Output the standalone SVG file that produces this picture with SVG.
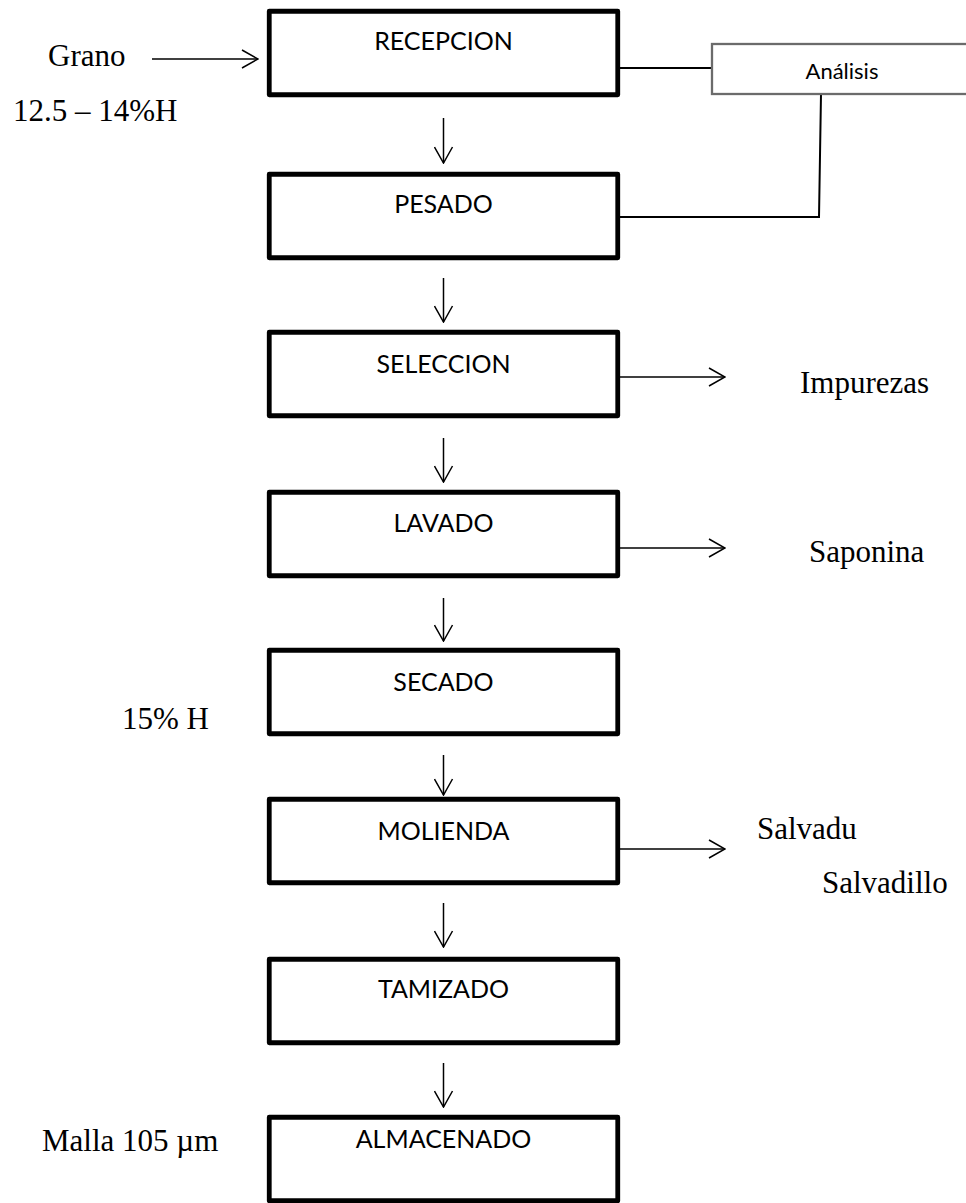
<svg xmlns="http://www.w3.org/2000/svg" width="966" height="1203" viewBox="0 0 966 1203">
  <defs>
    <style>
      .box { fill: #ffffff; stroke: #000000; stroke-width: 4.8; stroke-linejoin: round; }
      .side { fill: #ffffff; stroke: #6b6b6b; stroke-width: 2.3; }
      .lbl { font-family: Lato, "Open Sans", sans-serif; font-size: 25px; fill: #000000; text-anchor: middle; }
      .small { font-family: Lato, "Open Sans", sans-serif; font-size: 22px; fill: #000000; text-anchor: middle; }
      .note { font-family: "Liberation Serif", "Times New Roman", serif; font-size: 31px; fill: #000000; }
      .flow { fill: none; stroke: #000000; stroke-width: 1.5; }
      .link { fill: none; stroke: #000000; stroke-width: 2; }
    </style>
    <marker id="open" viewBox="0 0 18 20" refX="17" refY="10" markerWidth="18" markerHeight="20" markerUnits="userSpaceOnUse" orient="auto">
      <path d="M1,1 L17,10 L1,19" fill="none" stroke="#000000" stroke-width="1.5"/>
    </marker>
  </defs>

  <rect width="966" height="1203" fill="#ffffff"/>

  <!-- connectors -->
  <g id="connectors">
    <!-- incoming grain -->
    <line class="flow" x1="152" y1="59" x2="258" y2="59" marker-end="url(#open)"/>
    <!-- main vertical flow -->
    <line class="flow" x1="443.5" y1="118" x2="443.5" y2="163" marker-end="url(#open)"/>
    <line class="flow" x1="443.5" y1="278" x2="443.5" y2="322" marker-end="url(#open)"/>
    <line class="flow" x1="443.5" y1="438" x2="443.5" y2="482" marker-end="url(#open)"/>
    <line class="flow" x1="443.5" y1="598" x2="443.5" y2="641" marker-end="url(#open)"/>
    <line class="flow" x1="443.5" y1="755" x2="443.5" y2="795" marker-end="url(#open)"/>
    <line class="flow" x1="443.5" y1="903" x2="443.5" y2="947" marker-end="url(#open)"/>
    <line class="flow" x1="443.5" y1="1063" x2="443.5" y2="1107" marker-end="url(#open)"/>
    <!-- side outputs -->
    <line class="flow" x1="620" y1="377" x2="725" y2="377" marker-end="url(#open)"/>
    <line class="flow" x1="620" y1="548" x2="725" y2="548" marker-end="url(#open)"/>
    <line class="flow" x1="620" y1="849" x2="725" y2="849" marker-end="url(#open)"/>
    <!-- analysis links -->
    <line class="link" x1="620" y1="68" x2="712" y2="68"/>
    <polyline class="link" points="821,94 819,217 620,217"/>
  </g>

  <!-- process steps -->
  <g id="recepcion">
    <rect class="box" x="269.25" y="11.25" width="348.5" height="83.5"/>
    <text class="lbl" x="443.5" y="50">RECEPCION</text>
  </g>
  <g id="pesado">
    <rect class="box" x="269.25" y="174.25" width="348.5" height="83.5"/>
    <text class="lbl" x="443.5" y="213">PESADO</text>
  </g>
  <g id="seleccion">
    <rect class="box" x="269.25" y="332.25" width="348.5" height="83.5"/>
    <text class="lbl" x="443.5" y="373">SELECCION</text>
  </g>
  <g id="lavado">
    <rect class="box" x="269.25" y="492.25" width="348.5" height="83.5"/>
    <text class="lbl" x="443.5" y="532">LAVADO</text>
  </g>
  <g id="secado">
    <rect class="box" x="269.25" y="650.25" width="348.5" height="83.5"/>
    <text class="lbl" x="443.5" y="691">SECADO</text>
  </g>
  <g id="molienda">
    <rect class="box" x="269.25" y="799.25" width="348.5" height="83.5"/>
    <text class="lbl" x="443.5" y="840">MOLIENDA</text>
  </g>
  <g id="tamizado">
    <rect class="box" x="269.25" y="959.25" width="348.5" height="83.5"/>
    <text class="lbl" x="443.5" y="998">TAMIZADO</text>
  </g>
  <g id="almacenado">
    <rect class="box" x="269.25" y="1117.25" width="348.5" height="83.5"/>
    <text class="lbl" x="443.5" y="1148">ALMACENADO</text>
  </g>

  <!-- quality check -->
  <g id="analisis">
    <rect class="side" x="712" y="44" width="262" height="50"/>
    <text class="small" x="842" y="79">Análisis</text>
  </g>

  <!-- stream annotations -->
  <g id="annotations">
    <text class="note" x="48" y="66">Grano</text>
    <text class="note" x="13" y="121">12.5 – 14%H</text>
    <text class="note" x="800" y="393">Impurezas</text>
    <text class="note" x="809" y="562">Saponina</text>
    <text class="note" x="122" y="729">15% H</text>
    <text class="note" x="757" y="839">Salvadu</text>
    <text class="note" x="822" y="893">Salvadillo</text>
    <text class="note" x="42" y="1151">Malla 105 µm</text>
  </g>
</svg>
